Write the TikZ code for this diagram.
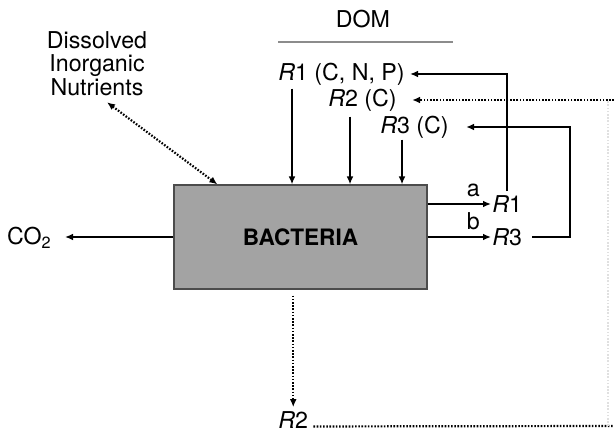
\documentclass[tikz,border=0pt]{standalone}
\usepackage{fontspec}
\setmainfont{TeX Gyre Heros}
\usetikzlibrary{positioning, arrows.meta}

\begin{document}
\begin{tikzpicture}[
        x=0.5pt, y=-0.5pt,
        font=\fontsize{11.6}{11.8}\selectfont,
        tag/.style={inner sep=0pt, anchor=west},
        block/.style={rectangle, draw=black!70, fill=black!36, line width=0.6pt, minimum width=126.5pt, minimum height=52pt, font=\fontsize{11.3}{12}\selectfont\bfseries},
        arrow/.style={->, >={Latex[length=4pt,width=3.4pt]}, line width=0.8pt},
        dotarrow/.style={arrow, line width=1.1pt, dash pattern=on 0.8pt off 0.8pt}
    ]
        \useasboundingbox (0,0) rectangle (614,432);
        % Nodes
        \node[block] (bact) at (300.5,237) {BACTERIA};
        \node[inner sep=0pt] (dom) at (363,19) {DOM};
        \node[tag] (r1top) at (278,74) {\textit{R}1 (C, N, P)};
        \node[tag] (r2top) at (328,100) {\textit{R}2 (C)};
        \node[tag] (r3top) at (380,127) {\textit{R}3 (C)};
        \node[tag] (r1out) at (492,204) {\textit{R}1};
        \node[tag] (r3out) at (492,237) {\textit{R}3};
        \node[tag] (r2bot) at (278,420) {\textit{R}2};
        \node[inner sep=0pt, anchor=east] (co2) at (52,238) {CO\textsubscript{2}};
        \node[inner sep=0pt, anchor=north, align=center] (din) at (97,31) {Dissolved\\Inorganic\\Nutrients};

        \coordinate (in1) at ([xshift=7pt]r1top.south west);
        \coordinate (in2) at ([xshift=11pt]r2top.south west);
        \coordinate (in3) at ([xshift=11pt]r3top.south west);
        \coordinate (r3turn) at (570,237);
        \coordinate (edgebot) at (614,426);
        \coordinate (edgetop) at (r2top.east -| edgebot);

        % DOM rule
        \draw[black!45, line width=0.6pt] (278,42) -- (453,42);

        % Paths
        \draw[arrow] (in1) ++(0,3) -- (in1 |- bact.north);
        \draw[arrow] (in2) ++(0,5) -- (in2 |- bact.north);
        \draw[arrow] (in3) ++(0,1) -- (in3 |- bact.north);
        \draw[dotarrow, <->] ([xshift=5pt,yshift=-3pt]din.south) -- ([xshift=22pt]bact.north west);
        \draw[arrow] (bact.west) -- ([xshift=6.5pt]co2.east |- bact.west);
        \draw[arrow] (bact.east |- r1out.west) -- node[pos=0.72, above] {a} ([xshift=-0.5pt]r1out.west);
        \draw[arrow] (bact.east |- r3out.west) -- node[pos=0.72, above] {b} ([xshift=-0.5pt]r3out.west);
        \draw[arrow] ([yshift=2pt]r1out.north) |- ([xshift=2.5pt]r1top.east);
        \draw[arrow] ([xshift=5pt]r3out.east) -- (r3turn) |- ([xshift=8.5pt]r3top.east);
        \draw[dotarrow] ([yshift=-3pt]bact.south -| r2bot.north) -- ([yshift=2pt]r2bot.north);
        \draw[dotarrow, -] ([xshift=2.5pt,yshift=1pt]r2bot.base east) -- (edgebot);
        \draw[dotarrow, -, black!12] ([xshift=-3pt]edgebot) -- ([xshift=-3pt]edgetop);
        \draw[dotarrow] (edgetop) -- ([xshift=7.5pt]r2top.east);
    \end{tikzpicture}
\end{document}
